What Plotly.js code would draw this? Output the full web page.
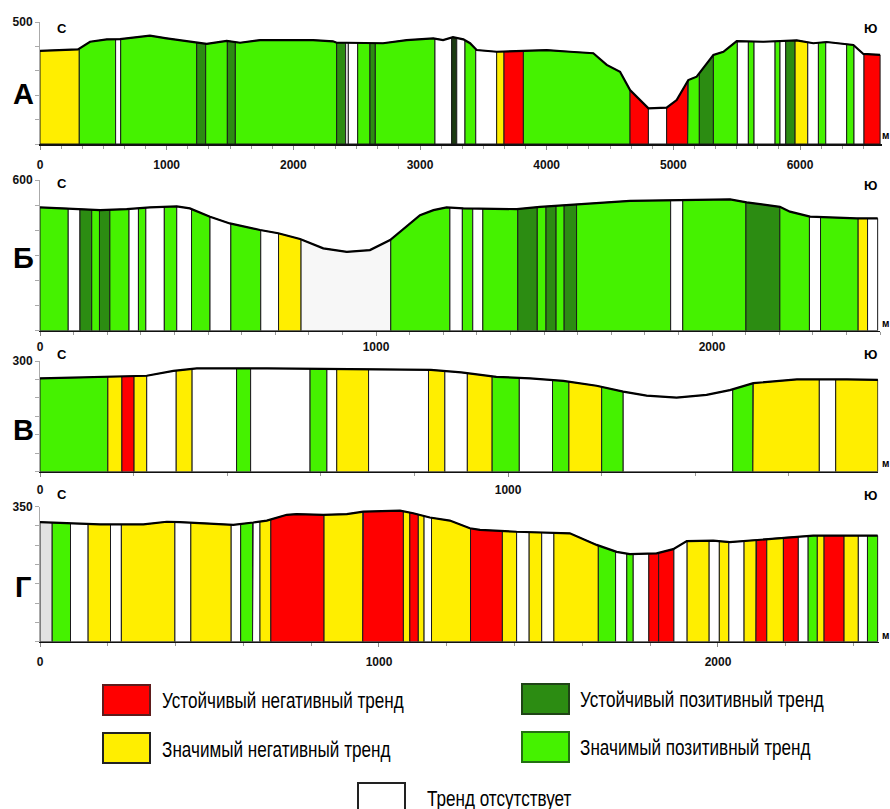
<!DOCTYPE html>
<html><head><meta charset="utf-8">
<script src="https://cdn.plot.ly/plotly-3.0.1.min.js"></script>
<style>html,body{margin:0;padding:0;background:#fff}#chart{width:890px;height:809px}</style>
</head><body><div id="chart"></div>
<script>
// ---------- Profile А ----------
const profA_x = [0,300,395,527,632,868,1000,1208,1316,1474,1579,1737,2155,2313,2342,2421,2579,2708,2895,3105,3182,3260,3342,3395,3447,3605,3816,4000,4184,4368,4474,4579,4658,4737,4803,4947,5026,5118,5184,5316,5395,5500,5711,5974,6105,6210,6421,6500,6632];
const profA_y = [382,388,419,429,430,444,433,417,410,423,415,426,426,421,415,415,413,413,426,433,426,438,429,413,385,378,382,385,378,372,324,296,221,180,146,149,180,262,276,365,378,422,419,425,413,418,406,369,365];
const edgesA = [0,310,597,637,1237,1308,1479,1542,2342,2413,2434,2508,2605,2647,3118,3250,3290,3355,3440,3605,3663,3816,4658,4803,4947,5113,5205,5316,5505,5592,5637,5803,5842,5887,5961,6061,6145,6203,6368,6426,6505,6632];
const catsA = ['Y','G','W','G','D','G','D','G','D','W','W','G','D','G','W','K','W','G','W','Y','R','G','R','W','R','G','D','G','W','G','W','G','W','D','Y','W','G','W','G','W','R'];

// ---------- Profile Б ----------
const profB_x = [0,79,179,258,327,407,446,506,565,655,709,774,843,913,982,1042,1091,1131,1171,1210,1260,1419,1488,1597,1756,1905,2054,2103,2202,2232,2292,2431,2493];
const profB_y = [491,487,480,484,491,495,487,454,427,401,388,365,328,314,321,361,414,460,480,491,487,484,493,503,517,520,523,511,493,474,454,447,447];
const edgesB = [0,84,119,154,177,208,265,293,315,370,407,451,506,568,657,710,777,1044,1220,1257,1288,1318,1422,1480,1506,1536,1560,1597,1877,1913,2101,2202,2290,2323,2435,2463,2493];
const catsB = ['G','W','D','G','D','G','W','G','W','G','W','G','W','G','W','Y','L','G','W','G','W','G','D','G','D','G','D','G','W','G','D','G','W','G','Y','W'];

// ---------- Profile В ----------
const profV_x = [0,85,143,228,285,335,485,698,835,900,975,1047,1118,1189,1246,1296,1360,1424,1474,1524,1617,1724,1790];
const profV_y = [253,255,257,260,273,280,280,278,276,269,257,253,246,233,217,206,201,208,221,240,250,250,249];
const edgesV = [0,145,175,201,228,291,325,420,450,577,613,634,702,830,865,913,966,1024,1095,1130,1200,1246,1480,1523,1665,1700,1790];
const catsV = ['G','Y','R','Y','W','Y','W','G','W','G','W','Y','W','Y','W','Y','G','W','G','Y','G','W','G','Y','W','Y'];

// ---------- Profile Г ----------
const profG_x = [0,79,177,305,374,413,492,570,629,669,728,757,836,905,954,1062,1101,1150,1209,1268,1298,1406,1563,1642,1701,1740,1819,1868,1908,1986,2035,2114,2193,2281,2471];
const profG_y = [310,307,304,304,311,310,307,303,309,314,329,331,329,331,337,340,333,322,314,294,290,285,281,251,233,227,229,240,261,262,258,264,270,275,275];
const edgesG = [0,36,90,142,208,240,398,445,564,592,627,649,681,838,952,1072,1091,1116,1133,1155,1270,1364,1406,1443,1480,1516,1647,1698,1731,1750,1796,1825,1870,1909,1974,2004,2032,2077,2112,2144,2193,2237,2266,2293,2313,2372,2414,2441,2471];
const catsG = ['S','G','W','Y','W','Y','W','Y','W','G','W','Y','R','Y','R','Y','R','Y','W','Y','R','Y','W','Y','W','Y','G','W','G','W','R','R','W','Y','W','Y','W','Y','R','Y','R','W','G','Y','R','Y','W','G'];

// ---------- Legend / labels ----------
const legendLabels = {
  R: 'Устойчивый негативный тренд',
  Y: 'Значимый негативный тренд',
  D: 'Устойчивый позитивный тренд',
  G: 'Значимый позитивный тренд',
  W: 'Тренд отсутствует'
};
const panelLetters = ['А','Б','В','Г'];
const xTickA = [0,1000,2000,3000,4000,5000,6000];
const xTickB = [0,1000,2000];
const xTickV = [0,1000];
const xTickG = [0,1000,2000];
const yTopLabels = [500,600,300,350];

const colors = {R:'#ff0000', Y:'#ffee00', D:'#2c8c12', G:'#45f200', W:'#ffffff', K:'#1c3a12', L:'#f7f7f7', S:'#e2e2e2'};

const W = 890, H = 809;
const px = v => v / W, py = v => 1 - v / H;

function interp(xs, ys, x) {
  if (x <= xs[0]) return ys[0];
  for (let i = 1; i < xs.length; i++) {
    if (x <= xs[i]) {
      const t = (x - xs[i-1]) / (xs[i] - xs[i-1]);
      return ys[i-1] + t * (ys[i] - ys[i-1]);
    }
  }
  return ys[ys.length-1];
}

const panels = [
  {px: profA_x, py: profA_y, edges: edgesA, cats: catsA, xa: 'x', ya: 'y'},
  {px: profB_x, py: profB_y, edges: edgesB, cats: catsB, xa: 'x2', ya: 'y2'},
  {px: profV_x, py: profV_y, edges: edgesV, cats: catsV, xa: 'x3', ya: 'y3'},
  {px: profG_x, py: profG_y, edges: edgesG, cats: catsG, xa: 'x4', ya: 'y4'}
];

const traces = [];
panels.forEach(p => {
  for (let i = 0; i < p.cats.length; i++) {
    const a = p.edges[i], b = p.edges[i+1];
    const xs = [a, a], ys = [0, interp(p.px, p.py, a)];
    p.px.forEach((xv, k) => { if (xv > a && xv < b) { xs.push(xv); ys.push(p.py[k]); } });
    xs.push(b, b, a); ys.push(interp(p.px, p.py, b), 0, 0);
    traces.push({type:'scatter', mode:'lines', x: xs, y: ys, fill:'toself',
      fillcolor: colors[p.cats[i]], line:{color:'#1a1a1a', width:1},
      xaxis: p.xa, yaxis: p.ya, hoverinfo:'skip', showlegend:false});
  }
  traces.push({type:'scatter', mode:'lines', x: p.px, y: p.py,
    line:{color:'#000', width:2.2}, xaxis: p.xa, yaxis: p.ya, hoverinfo:'skip', showlegend:false});
});

const tickFont = {family:'Liberation Sans, Arial, sans-serif', size:12, color:'#111', weight:'bold'};
function xAxis(l, r, range, ticks, minor, anchor, standoff) {
  return {domain:[px(l), px(r)], range: range, anchor: anchor, showline:true, linecolor:'#111', linewidth:1.6,
    ticks:'outside', ticklen:4, tickcolor:'#888', tickvals: ticks, ticktext: ticks.map(String),
    tickfont: tickFont, ticklabelstandoff: standoff,
    minor:{dtick: minor, tick0:0, ticks:'outside', ticklen:3, tickcolor:'#999'},
    showgrid:false, zeroline:false, fixedrange:true};
}
function yAxis(top, bottom, maxv, step, anchor) {
  const vals = []; for (let v = 0; v <= maxv + 1e-6; v += step) vals.push(v);
  return {domain:[py(bottom), py(top)], range:[0, maxv], anchor: anchor, showline:true, linecolor:'#aaa', linewidth:1,
    ticks:'outside', ticklen:4, tickcolor:'#aaa', tickvals: vals,
    ticktext: vals.map(v => v === maxv ? String(v) : ''), tickfont: tickFont,
    showgrid:false, zeroline:false, fixedrange:true};
}

const annotations = [];
const letterY = [94, 258, 430, 587];
panelLetters.forEach((t, i) => annotations.push({xref:'paper', yref:'paper', x: px(23), y: py(letterY[i]), text: t,
  showarrow:false, xanchor:'center', yanchor:'middle', font:{family:'Liberation Sans, Arial', size:29, color:'#000', weight:'bold'}}));
const sY = [28, 183, 355, 494];
const yuY = [29, 185, 355, 495];
const mY = [136, 323, 463, 635];
sY.forEach(v => annotations.push({xref:'paper', yref:'paper', x: px(62), y: py(v), text:'С', showarrow:false,
  xanchor:'center', yanchor:'middle', font:{family:'Liberation Sans, Arial', size:13, color:'#000', weight:'bold'}}));
yuY.forEach(v => annotations.push({xref:'paper', yref:'paper', x: px(870), y: py(v), text:'Ю', showarrow:false,
  xanchor:'center', yanchor:'middle', font:{family:'Liberation Sans, Arial', size:13, color:'#000', weight:'bold'}}));
mY.forEach(v => annotations.push({xref:'paper', yref:'paper', x: px(880), y: py(v), text:'м', showarrow:false,
  xanchor:'left', yanchor:'middle', font:{family:'Liberation Sans, Arial', size:10, color:'#000', weight:'bold'}}));

const legFont = {family:'Liberation Sans, Arial, sans-serif', size:22, color:'#000'};
const legItems = [
  {c:'R', x0:103, y0:685, tx:160, ty:700, border:'#5e1c1c'},
  {c:'Y', x0:103, y0:733, tx:160, ty:749, border:'#222'},
  {c:'D', x0:522, y0:684, tx:578, ty:699, border:'#1f4416'},
  {c:'G', x0:522, y0:732, tx:578, ty:747, border:'#237012'},
  {c:'W', x0:358, y0:783, tx:425, ty:798, border:'#222'}
];
const shapes = [];
const legendIdx = [];
legItems.forEach(it => {
  shapes.push({type:'rect', xref:'paper', yref:'paper', x0: px(it.x0), x1: px(it.x0 + 47), y0: py(it.y0 + 30), y1: py(it.y0),
    fillcolor: colors[it.c], line:{color: it.border, width:2}});
  legendIdx.push(annotations.length);
  annotations.push({xref:'paper', yref:'paper', x: px(it.tx), y: py(it.ty), text: legendLabels[it.c], showarrow:false,
    xanchor:'left', yanchor:'middle', font: legFont});
});

const layout = {
  width: W, height: H, margin:{l:0, r:0, t:0, b:0}, paper_bgcolor:'#fff', plot_bgcolor:'rgba(0,0,0,0)',
  showlegend:false, hovermode:false,
  xaxis:  xAxis(40, 882, [0, 6647], xTickA, 1000/6, 'y', 5),
  yaxis:  yAxis(22, 144, yTopLabels[0], 100, 'x'),
  xaxis2: xAxis(40, 880, [0, 2500], xTickB, 100, 'y2', 0),
  yaxis2: yAxis(180, 330.7, yTopLabels[1], 100, 'x2'),
  xaxis3: xAxis(40, 878.3, [0, 1791], xTickV, 200, 'y3', 2),
  yaxis3: yAxis(361, 471.7, yTopLabels[2], 50, 'x3'),
  xaxis4: xAxis(40, 879, [0, 2475], xTickG, 200, 'y4', 4),
  yaxis4: yAxis(506.7, 641.7, yTopLabels[3], 50, 'x4'),
  annotations: annotations, shapes: shapes
};
Plotly.newPlot('chart', traces, layout, {staticPlot:true, displayModeBar:false}).then(gd => {
  // condense legend text horizontally (reference uses a narrow typeface)
  const texts = gd.querySelectorAll('.annotation');
  const refIdx = legendIdx[0];
  let scale = 1;
  texts.forEach(g => {
    if (+g.getAttribute('data-index') === refIdx) {
      const t = g.querySelector('text'); const w = t.getBBox().width;
      if (w > 0) scale = 242 / w;
    }
  });
  texts.forEach(g => {
    const idx = +g.getAttribute('data-index');
    if (legendIdx.indexOf(idx) >= 0) {
      const t = g.querySelector('text'); const bb = t.getBBox();
      t.setAttribute('transform', 'translate(' + (bb.x * (1 - scale)) + ',0) scale(' + scale + ',1)');
    }
  });
});
</script></body></html>
